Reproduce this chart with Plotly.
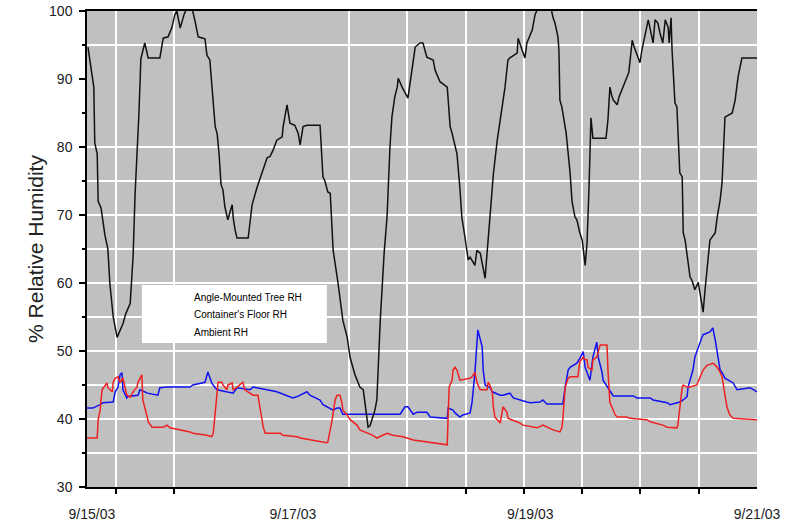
import plotly.graph_objects as go

# ---------------- data (hours since 9/15/03 00:00, % RH) ----------------
ambient_readings = [
    (6.2, 94.7), (7.0, 90.9), (7.4, 88.8), (7.6, 80.6), (8.1, 79.0), (8.3, 72.0), (8.9, 71.0),
    (9.7, 67.0), (10.3, 65.0), (10.7, 60.0), (11.4, 55.0), (12.2, 52.0), (12.8, 53.0), (13.4, 54.0),
    (14.0, 55.5), (14.9, 57.0), (15.5, 64.0), (15.9, 73.0), (16.7, 85.0), (17.1, 93.0), (17.9, 95.3),
    (18.6, 93.1), (21.0, 93.1), (21.7, 96.0), (22.7, 96.2), (23.5, 97.6), (24.1, 99.5), (24.5, 100.0),
    (25.2, 97.5), (26.0, 99.5), (26.6, 100.5), (27.6, 100.5), (28.2, 98.7), (28.9, 96.2), (30.3, 95.9),
    (30.7, 93.5), (31.3, 92.8), (31.7, 88.8), (32.0, 87.0), (32.4, 83.0), (32.8, 82.0), (33.2, 79.0),
    (33.6, 74.5), (34.0, 73.7), (34.4, 71.2), (35.0, 69.3), (35.9, 71.5), (36.1, 69.7), (36.5, 67.8),
    (36.9, 66.6), (39.2, 66.6), (40.0, 71.5), (41.0, 74.0), (42.0, 76.0), (43.1, 78.4), (43.7, 78.6),
    (44.3, 79.5), (45.1, 81.0), (46.2, 81.5), (46.4, 83.0), (47.2, 86.2), (47.8, 83.5), (48.8, 83.2),
    (49.5, 82.0), (49.9, 80.3), (50.5, 83.0), (51.3, 83.2), (54.0, 83.2), (54.6, 75.6), (55.0, 75.0),
    (55.6, 73.4), (56.1, 73.2), (56.7, 64.8), (57.7, 60.0), (58.7, 54.5), (59.6, 52.0), (60.2, 49.0),
    (61.2, 46.5), (62.2, 44.7), (62.9, 44.3), (63.3, 41.8), (63.9, 38.8), (64.3, 39.0), (64.7, 39.9),
    (65.3, 41.3), (65.7, 42.8), (66.4, 54.5), (67.2, 64.4), (67.8, 69.7), (68.4, 80.0), (68.8, 84.4),
    (69.4, 87.4), (69.9, 88.8), (70.1, 90.1), (70.9, 88.8), (72.1, 87.2), (72.5, 89.4), (73.2, 93.2),
    (73.6, 94.7), (74.6, 95.3), (75.2, 95.3), (76.0, 93.2), (77.3, 92.8), (77.7, 91.3), (78.7, 89.6),
    (80.2, 88.8), (80.8, 83.0), (81.2, 82.0), (82.2, 79.0), (82.8, 74.0), (83.2, 69.7), (83.9, 66.5),
    (84.5, 63.4), (84.9, 63.8), (85.9, 62.6), (86.3, 64.8), (87.0, 64.4), (87.4, 62.9), (88.0, 60.7),
    (88.4, 64.4), (89.0, 69.7), (89.7, 76.0), (90.5, 81.0), (90.7, 82.0), (91.7, 86.9), (92.1, 88.8),
    (92.7, 92.8), (93.1, 93.1), (94.6, 93.8), (94.8, 96.0), (95.6, 94.3), (96.2, 93.1), (96.6, 95.3),
    (97.7, 97.2), (98.3, 99.5), (99.3, 101.0), (101.4, 101.0), (102.0, 99.0), (102.4, 98.2),
    (103.0, 96.2), (103.2, 94.3), (103.4, 86.9), (103.8, 85.9), (104.5, 83.0), (104.7, 82.0),
    (105.5, 76.2), (105.9, 72.0), (106.5, 69.7), (106.9, 69.3), (107.5, 67.4), (108.0, 66.3),
    (108.6, 62.6), (109.0, 66.0), (109.4, 74.0), (109.8, 84.3), (110.2, 81.3), (112.9, 81.3),
    (113.3, 84.0), (113.7, 88.8), (114.1, 87.5), (114.4, 86.9), (115.2, 86.2), (115.6, 87.4),
    (117.0, 89.9), (117.6, 91.0), (118.3, 95.7), (118.7, 94.7), (119.9, 92.4), (120.3, 94.3),
    (121.6, 98.7), (122.0, 97.2), (122.6, 95.3), (123.0, 98.7), (123.6, 98.2), (124.0, 96.8),
    (124.6, 95.3), (125.1, 98.7), (125.7, 97.6), (125.9, 95.3), (126.3, 99.0), (126.5, 94.3),
    (127.1, 86.5), (127.5, 85.9), (128.1, 76.2), (128.6, 75.6), (128.8, 67.4), (129.2, 66.3),
    (130.2, 60.9), (130.6, 60.4), (131.2, 59.0), (131.9, 60.1), (132.3, 58.5), (132.9, 55.7),
    (133.3, 59.0), (133.9, 62.9), (134.3, 66.3), (135.4, 67.4), (135.8, 69.7), (136.4, 72.2),
    (136.8, 74.7), (137.4, 84.4), (138.9, 85.0), (139.5, 86.9), (140.1, 90.3), (140.9, 93.1),
    (144.0, 93.1),
]

tree_readings = [
    (6.0, 41.6), (7.2, 41.6), (8.7, 42.1), (9.3, 42.4), (11.4, 42.5), (11.8, 44.0), (12.4, 44.7),
    (12.8, 46.5), (13.2, 46.8), (13.4, 44.3), (14.2, 43.1), (14.4, 43.3), (16.5, 43.5), (16.9, 44.3),
    (17.9, 44.0), (18.4, 43.8), (20.6, 43.5), (21.0, 44.6), (22.5, 44.7), (27.2, 44.7), (27.8, 45.0),
    (30.3, 45.4), (30.9, 46.9), (31.7, 45.3), (32.4, 44.6), (32.8, 44.3), (36.1, 43.8), (36.9, 44.6),
    (39.6, 44.3), (40.2, 44.7), (43.1, 44.3), (45.1, 44.0), (48.4, 43.1), (49.3, 43.3), (51.3, 44.0),
    (51.9, 43.5), (54.0, 42.8), (54.6, 42.1), (56.7, 41.3), (57.5, 41.6), (58.1, 41.6), (58.7, 40.7),
    (70.5, 40.7), (71.5, 41.8), (72.1, 41.8), (73.2, 40.7), (74.0, 41.0), (76.0, 41.0), (76.7, 40.3),
    (80.2, 40.1), (80.4, 41.6), (81.4, 41.3), (81.8, 40.9), (82.8, 40.3), (83.4, 40.6), (84.9, 40.9),
    (85.3, 42.4), (85.9, 46.8), (86.5, 53.1), (87.0, 51.6), (87.4, 50.6), (87.6, 47.2), (88.0, 45.0),
    (89.0, 44.6), (89.5, 44.0), (91.1, 43.5), (91.7, 43.5), (93.1, 43.8), (93.8, 43.1), (96.6, 42.5),
    (97.3, 42.4), (99.3, 42.5), (99.9, 42.8), (100.7, 42.2), (104.0, 42.2), (104.5, 44.7),
    (105.1, 47.2), (105.5, 47.6), (106.9, 48.2), (107.5, 48.9), (108.2, 49.9), (108.6, 47.6),
    (109.6, 45.7), (110.2, 49.1), (111.0, 51.3), (111.3, 49.1), (112.1, 46.8), (112.3, 45.7),
    (114.2, 43.5), (114.4, 43.4), (118.5, 43.4), (119.3, 43.1), (122.0, 43.1), (122.6, 42.8),
    (125.5, 42.4), (126.1, 42.1), (128.1, 42.5), (128.8, 42.8), (129.6, 43.3), (129.8, 44.7),
    (130.8, 47.2), (131.2, 49.1), (132.7, 52.1), (132.9, 52.4), (134.3, 52.8), (134.9, 53.4),
    (135.4, 51.6), (136.0, 48.7), (136.4, 47.2), (136.8, 46.8), (137.4, 46.0), (139.1, 45.3),
    (139.9, 44.3), (142.6, 44.6), (144.0, 44.0),
]

floor_readings = [
    (6.0, 37.2), (8.1, 37.2), (8.3, 39.9), (8.7, 41.3), (9.1, 44.3), (10.1, 45.3), (10.3, 44.6),
    (11.2, 44.0), (11.4, 45.4), (11.8, 46.0), (12.4, 46.2), (12.8, 45.4), (13.4, 46.0), (14.2, 43.5),
    (14.9, 43.2), (15.5, 44.0), (16.3, 44.7), (16.5, 45.4), (17.3, 46.5), (17.5, 42.8), (18.4, 40.3),
    (18.6, 39.6), (19.4, 38.8), (21.7, 38.8), (22.5, 39.1), (23.1, 38.7), (27.2, 38.1), (27.8, 37.9),
    (30.7, 37.6), (31.7, 37.4), (32.0, 37.9), (32.4, 40.9), (32.8, 44.7), (33.0, 45.4), (33.8, 45.4),
    (34.0, 45.0), (34.8, 44.3), (35.0, 45.0), (35.9, 45.3), (36.1, 44.3), (36.9, 44.7), (37.5, 45.0),
    (38.1, 45.4), (38.5, 44.3), (40.2, 43.5), (41.2, 43.5), (41.6, 41.8), (42.3, 38.8), (42.7, 37.9),
    (45.8, 37.9), (46.4, 37.6), (49.3, 37.4), (49.9, 37.2), (55.4, 36.5), (55.6, 36.6), (56.5, 39.9),
    (57.1, 42.8), (57.5, 43.5), (58.1, 43.5), (58.5, 42.4), (58.7, 41.3), (59.6, 40.6), (60.2, 39.9),
    (61.6, 39.1), (62.2, 38.4), (63.7, 37.9), (64.9, 37.6), (65.7, 37.2), (66.4, 37.4), (67.8, 37.9),
    (69.0, 37.6), (70.5, 37.4), (71.1, 37.4), (73.2, 36.9), (76.7, 36.6), (77.3, 36.5), (80.2, 36.2),
    (80.4, 40.9), (80.6, 44.7), (81.2, 45.7), (81.4, 47.2), (81.8, 47.6), (82.2, 47.2), (82.8, 45.7),
    (84.9, 46.0), (85.3, 46.2), (85.9, 46.9), (86.3, 45.4), (87.0, 44.3), (88.4, 44.3), (88.6, 45.4),
    (89.0, 45.0), (89.5, 43.8), (89.7, 41.8), (90.0, 40.3), (91.1, 39.4), (91.7, 41.8), (92.5, 41.0),
    (92.7, 40.1), (95.2, 39.4), (95.8, 39.1), (98.7, 38.7), (99.9, 39.1), (102.0, 38.4),
    (103.4, 38.1), (103.8, 38.7), (104.0, 39.9), (104.5, 44.7), (105.1, 46.0), (105.5, 46.2),
    (107.1, 46.2), (107.5, 48.4), (108.2, 49.1), (108.6, 48.7), (109.0, 48.7), (109.2, 47.6),
    (110.0, 47.2), (110.2, 48.7), (111.0, 49.1), (111.7, 50.9), (113.1, 50.9), (113.3, 47.2),
    (113.7, 42.4), (114.1, 41.8), (114.8, 40.6), (115.2, 40.3), (117.2, 40.3), (117.8, 40.1),
    (121.3, 39.9), (122.0, 39.6), (124.6, 39.1), (125.5, 38.8), (127.5, 38.7), (127.7, 39.1),
    (128.1, 41.8), (128.6, 44.7), (128.8, 45.0), (129.6, 44.7), (130.2, 44.7), (131.6, 45.0),
    (132.3, 46.2), (132.9, 47.2), (133.7, 47.9), (135.0, 48.2), (135.8, 47.6), (136.4, 46.9),
    (136.8, 46.2), (137.4, 43.3), (137.8, 41.8), (138.4, 40.6), (139.1, 40.1), (144.0, 39.9),
]

x_range_hours = [6, 144]
tick_hours = [12, 24, 84, 96, 108, 120, 132]
grid_hours = [12, 24, 60, 72, 84, 96, 108, 120, 132]
date_label_hours = [7.0, 48.4, 97.3, 144.0]
date_labels = ["9/15/03", "9/17/03", "9/19/03", "9/21/03"]
y_range = [30, 100]
y_label_values = [30, 40, 50, 60, 70, 80, 90, 100]
y_minor_values = [35, 45, 55, 65, 75, 85, 95]
y_grid_values = [35, 40, 45, 50, 55, 60, 65, 70, 75, 80, 95]
legend_lines = ["Angle-Mounted Tree RH", "Container's Floor RH", "Ambient RH"]

# ---------------- figure ----------------
FONT = "Liberation Sans, Arial, sans-serif"
fig = go.Figure()

def add_series(readings, color, name):
    fig.add_trace(go.Scatter(
        x=[r[0] for r in readings], y=[r[1] for r in readings],
        mode="lines", line=dict(color=color, width=1.5), name=name,
        showlegend=False, cliponaxis=True,
    ))

add_series(tree_readings, "#1010f0", legend_lines[0])
add_series(floor_readings, "#ee2020", legend_lines[1])
add_series(ambient_readings, "#111111", legend_lines[2])

# helper (empty) traces to activate the overlay axes used for grid and date labels
fig.add_trace(go.Scatter(x=[], y=[], xaxis="x2", yaxis="y", showlegend=False, hoverinfo="skip"))
fig.add_trace(go.Scatter(x=[], y=[], xaxis="x", yaxis="y2", showlegend=False, hoverinfo="skip"))

fig.update_layout(
    width=787, height=526,
    margin=dict(l=87, r=30, t=11, b=39, autoexpand=False),
    paper_bgcolor="white", plot_bgcolor="#c0c0c0",
    font=dict(family=FONT, color="#222222"),
    showlegend=False,
    xaxis=dict(
        range=x_range_hours, tickmode="array", tickvals=tick_hours, showticklabels=False,
        ticks="outside", ticklen=5, tickcolor="black", tickwidth=1.5,
        showgrid=True, gridcolor="white", gridwidth=2,
        minor=dict(tickmode="array", tickvals=grid_hours, showgrid=True,
                   gridcolor="white", gridwidth=2, ticks=""),
        showline=True, linecolor="black", linewidth=1.5, mirror=True, zeroline=False,
        automargin=False,
    ),
    xaxis2=dict(
        range=x_range_hours, overlaying="x", anchor="y", side="bottom",
        tickmode="array", tickvals=date_label_hours, ticktext=date_labels,
        ticks="", showgrid=False, showline=False, zeroline=False,
        tickfont=dict(size=14, color="#222222"), ticklabelstandoff=17,
        automargin=False,
    ),
    yaxis=dict(
        range=y_range, tickmode="array", tickvals=y_label_values,
        ticks="outside", ticklen=6, tickcolor="black", tickwidth=1.5,
        showgrid=False, showline=True, linecolor="black", linewidth=1.5, zeroline=False,
        tickfont=dict(size=14, color="#222222"), ticklabelstandoff=4,
        minor=dict(tickmode="array", tickvals=y_minor_values, ticks="outside",
                   ticklen=3, tickcolor="black", showgrid=False),
        title=dict(text="% Relative Humidity", font=dict(size=21, color="#222222"), standoff=0),
        automargin=False,
    ),
    yaxis2=dict(
        range=y_range, overlaying="y", anchor="x", side="left",
        tickmode="array", tickvals=y_grid_values, showticklabels=False, ticks="",
        showgrid=True, gridcolor="white", gridwidth=2, showline=False, zeroline=False,
        automargin=False,
    ),
)

# legend box (text only, as in the original)
fig.add_shape(type="rect", xref="paper", yref="paper", x0=0.082, x1=0.358, y0=0.3025, y1=0.4244,
              fillcolor="white", line=dict(width=0), layer="above")
for i, txt in enumerate(legend_lines):
    fig.add_annotation(xref="paper", yref="paper", x=0.157, y=0.399 - i * 0.0375,
                       text=txt, showarrow=False, xanchor="left", yanchor="middle",
                       font=dict(family=FONT, size=10, color="black"))

fig.write_html("out.html", config={"displayModeBar": False},
               post_script="document.body.style.margin='0px';")
